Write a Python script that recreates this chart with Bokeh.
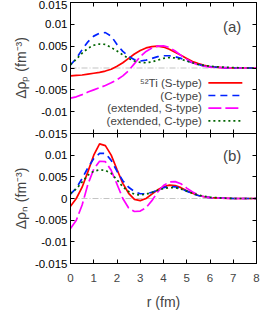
from bokeh.plotting import figure
from bokeh.layouts import column
from bokeh.models import (Range1d, FixedTicker, LinearAxis, Span, Label)
from bokeh.embed import file_html
from bokeh.resources import INLINE

# ---------------- data ----------------
r = [0.0, 0.25, 0.5, 0.75, 1.0, 1.25, 1.5, 1.75, 2.0, 2.25, 2.5, 2.75, 3.0,
     3.25, 3.5, 3.75, 4.0, 4.25, 4.5, 4.75, 5.0, 5.25, 5.5, 5.75, 6.0,
     6.5, 7.0, 7.5, 8.0]

# (a) proton density difference
rho_p_S = [-0.0018, -0.0017, -0.0016, -0.0014, -0.0012, -0.0010, -0.0007, -0.0003,
           0.0004, 0.0012, 0.0022, 0.0032, 0.0040, 0.0046, 0.0049, 0.0050, 0.0048,
           0.0043, 0.0036, 0.0029, 0.0022, 0.0015, 0.0010, 0.0006, 0.0003,
           0.0001, 0.0, 0.0, 0.0]
rho_p_C = [0.0007, 0.0022, 0.0042, 0.0060, 0.0073, 0.0080, 0.0081, 0.0073, 0.0054,
           0.0038, 0.0027, 0.0019, 0.0016, 0.0018, 0.0022, 0.0026, 0.0028, 0.0028,
           0.0026, 0.0022, 0.0017, 0.0012, 0.0008, 0.0005, 0.0003,
           0.0001, 0.0, 0.0, 0.0]
rho_p_eS = [-0.0069, -0.0066, -0.0061, -0.0055, -0.0050, -0.0045, -0.0040, -0.0034,
            -0.0027, -0.0018, -0.0006, 0.0010, 0.0026, 0.0038, 0.0046, 0.0050, 0.0051,
            0.0047, 0.0039, 0.0029, 0.0020, 0.0012, 0.0007, 0.0004, 0.0002,
            0.0001, 0.0, 0.0, 0.0]
rho_p_eC = [0.0008, 0.0020, 0.0034, 0.0045, 0.0052, 0.0055, 0.0054, 0.0047, 0.0039,
            0.0030, 0.0022, 0.0016, 0.0013, 0.0012, 0.0014, 0.0018, 0.0022, 0.0024,
            0.0023, 0.0020, 0.0016, 0.0012, 0.0008, 0.0006, 0.0004,
            0.0002, 0.0001, 0.0, 0.0]

# (b) neutron density difference
rho_n_S = [-0.0018, 0.0000, 0.0026, 0.0062, 0.0100, 0.0126, 0.0122, 0.0100, 0.0067,
           0.0035, 0.0012, -0.0002, -0.0005, 0.0000, 0.0010, 0.0020, 0.0027, 0.0031,
           0.0030, 0.0025, 0.0018, 0.0012, 0.0007, 0.0004, 0.0002,
           0.0001, 0.0, 0.0, 0.0]
rho_n_C = [0.0010, 0.0024, 0.0046, 0.0071, 0.0092, 0.0104, 0.0104, 0.0088, 0.0063,
           0.0041, 0.0026, 0.0016, 0.0011, 0.0011, 0.0014, 0.0020, 0.0025, 0.0028,
           0.0027, 0.0023, 0.0017, 0.0011, 0.0007, 0.0004, 0.0002,
           0.0001, 0.0, 0.0, 0.0]
rho_n_eS = [-0.0069, -0.0050, -0.0015, 0.0033, 0.0068, 0.0086, 0.0085, 0.0065, 0.0033,
            0.0000, -0.0022, -0.0030, -0.0029, -0.0021, -0.0005, 0.0015, 0.0030, 0.0038,
            0.0039, 0.0034, 0.0024, 0.0015, 0.0008, 0.0004, 0.0002,
            0.0001, 0.0, 0.0, 0.0]
rho_n_eC = [0.0012, 0.0022, 0.0038, 0.0054, 0.0063, 0.0066, 0.0065, 0.0058, 0.0043,
            0.0027, 0.0016, 0.0010, 0.0008, 0.0010, 0.0014, 0.0019, 0.0023, 0.0025,
            0.0025, 0.0022, 0.0017, 0.0012, 0.0008, 0.0005, 0.0003,
            0.0001, 0.0, 0.0, 0.0]

x_ticks = [0, 1, 2, 3, 4, 5, 6, 7, 8]
y_ticks_top = [-0.015, -0.01, -0.005, 0, 0.005, 0.01, 0.015]
y_ticks_bot = [-0.015, -0.01, -0.005, 0, 0.005, 0.01]
y_labels = {-0.015: "-0.015", -0.01: "-0.01", -0.005: "-0.005", 0: "0",
            0.005: "0.005", 0.01: "0.01", 0.015: "0.015"}

legend_labels = ["\u2075\u00b2Ti (S-type)", "(C-type)", "(extended, S-type)", "(extended, C-type)"]

# ---------------- styles ----------------
FONT = "Liberation Sans"
series_style = [
    dict(color="#ff0000", dash="solid"),
    dict(color="#0022ff", dash="7 5"),
    dict(color="#ff00ff", dash="13 4"),
    dict(color="#006400", dash="2 3"),
]
LW = 1.7
OVERLAP = 8


def mirror_axis(ticks):
    return LinearAxis(ticker=FixedTicker(ticks=ticks), major_tick_in=4,
                      major_tick_out=0, minor_tick_line_color=None,
                      major_label_text_font_size="1px", major_label_text_color=None,
                      major_label_standoff=0, axis_line_color="black")


def make_panel(ys, ylabel, yticks, tag, tag_y, frame_h, bottom, legend=False):
    styles = {"margin-left": "8px"}
    if bottom:
        styles["margin-top"] = "-%dpx" % OVERLAP
    p = figure(frame_width=186, frame_height=frame_h,
               x_range=Range1d(0, 8), y_range=Range1d(-0.015, 0.015),
               output_backend="svg", toolbar_location=None,
               x_axis_location="below" if bottom else None,
               min_border_left=62, min_border_right=6,
               min_border_top=2 if not bottom else 0,
               min_border_bottom=0 if bottom else OVERLAP, styles=styles)
    p.grid.visible = False
    p.outline_line_color = "black"
    p.background_fill_color = "white"
    if bottom:
        p.border_fill_alpha = 0

    zl = Span(location=0, dimension="width", line_color="#c4c4c4",
              line_dash="6 2 1 2", line_width=1.2, level="underlay")
    p.add_layout(zl)

    for y, st in zip(ys, series_style):
        p.line(r, y, line_color=st["color"], line_dash=st["dash"], line_width=LW)

    ya = p.yaxis[0]
    ya.ticker = FixedTicker(ticks=yticks)
    ya.major_label_overrides = {t: y_labels[t] for t in yticks}
    ya.axis_label = ylabel
    ya.major_tick_in = 4
    ya.major_tick_out = 0
    ya.minor_tick_line_color = None
    ya.major_label_text_font = FONT
    ya.major_label_text_font_size = "11.5px"
    ya.major_label_text_color = "black"
    ya.major_label_standoff = 3
    ya.axis_label_text_font = FONT
    ya.axis_label_text_font_size = "14px"
    ya.axis_label_text_font_style = "normal"
    ya.axis_label_standoff = 3
    ya.axis_line_color = "black"

    if bottom:
        xa = p.xaxis[0]
        xa.ticker = FixedTicker(ticks=x_ticks)
        xa.axis_label = "r (fm)"
        xa.major_tick_in = 4
        xa.major_tick_out = 0
        xa.minor_tick_line_color = None
        xa.major_label_text_font = FONT
        xa.major_label_text_font_size = "11.5px"
        xa.major_label_standoff = 10
        xa.axis_label_text_font = FONT
        xa.axis_label_text_font_size = "14px"
        xa.axis_label_text_font_style = "normal"
        xa.axis_label_standoff = 9
    else:
        p.add_layout(mirror_axis(x_ticks), "below")

    p.add_layout(mirror_axis(x_ticks), "above")
    p.add_layout(mirror_axis(y_ticks_top), "right")

    p.add_layout(Label(x=6.95, y=tag_y, text=tag, text_font=FONT,
                       text_font_size="15px", text_align="center",
                       text_baseline="middle"))

    if legend:
        leg_y = [-0.0034, -0.0063, -0.0092, -0.0121]
        for lab, yy, st in zip(legend_labels, leg_y, series_style):
            p.add_layout(Label(x=5.65, y=yy, text=lab, text_font=FONT,
                               text_font_size="11.5px", text_align="right",
                               text_baseline="middle"))
            p.line([5.93, 7.39], [yy, yy], line_color=st["color"],
                   line_dash=st["dash"], line_width=LW)
    return p


top = make_panel([rho_p_S, rho_p_C, rho_p_eS, rho_p_eC],
                 "\u0394\u03c1\u209a (fm\u207b\u00b3)", y_ticks_top, "(a)", 0.0094,
                 131, False, legend=True)
bot = make_panel([rho_n_S, rho_n_C, rho_n_eS, rho_n_eC],
                 "\u0394\u03c1\u2099 (fm\u207b\u00b3)", y_ticks_bot, "(b)", 0.0099,
                 130, True)

layout = column(top, bot, spacing=0)
open("out.html", "w").write(file_html(layout, INLINE))
